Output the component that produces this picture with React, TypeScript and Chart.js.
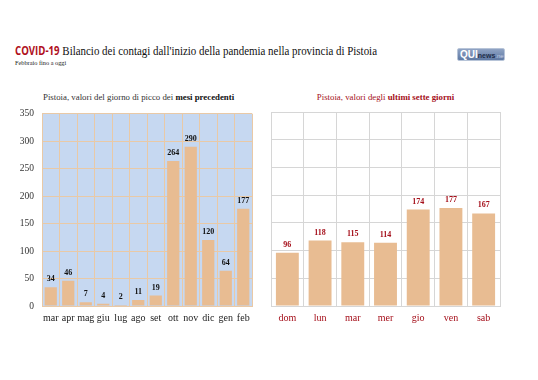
import React, { useEffect, useRef } from "react";
import { Chart, registerables } from "chart.js";

Chart.register(...registerables);

const monthLabels = ["mar", "apr", "mag", "giu", "lug", "ago", "set", "ott", "nov", "dic", "gen", "feb"];
const monthValues = [34, 46, 7, 4, 2, 11, 19, 264, 290, 120, 64, 177];
const dayLabels = ["dom", "lun", "mar", "mer", "gio", "ven", "sab"];
const dayValues = [96, 118, 115, 114, 174, 177, 167];
const yMax = 350;
const yStep = 50;

const SERIF = "'Liberation Serif', 'DejaVu Serif', serif";
const BAR = "#e8bc92";
const RED = "#a50f1a";

const valueLabels = (color: string) => ({
  id: "valueLabels",
  afterDatasetsDraw(chart: any) {
    const ctx = chart.ctx;
    const meta = chart.getDatasetMeta(0);
    const data = chart.data.datasets[0].data;
    ctx.save();
    ctx.font = `bold 8px ${SERIF}`;
    ctx.fillStyle = color;
    ctx.textAlign = "center";
    ctx.textBaseline = "bottom";
    meta.data.forEach((bar: any, i: number) => {
      ctx.fillText(String(data[i]), bar.x, bar.y - 4);
    });
    ctx.restore();
  },
});

const plotBg = (color: string) => ({
  id: "plotBg",
  beforeDraw(chart: any) {
    const { ctx, chartArea } = chart;
    ctx.save();
    ctx.fillStyle = color;
    ctx.fillRect(chartArea.left, chartArea.top, chartArea.right - chartArea.left, chartArea.bottom - chartArea.top);
    ctx.restore();
  },
});

function BarPanel(props: {
  labels: string[];
  values: number[];
  left: number;
  width: number;
  padLeft: number;
  padRight: number;
  yAxisWidth: number;
  showY: boolean;
  gridColor: string;
  bg: string | null;
  tickColor: string;
  labelColor: string;
}) {
  const ref = useRef<HTMLCanvasElement>(null);
  useEffect(() => {
    const plugins: any[] = [valueLabels(props.labelColor)];
    if (props.bg) plugins.push(plotBg(props.bg));
    const chart = new Chart(ref.current as HTMLCanvasElement, {
      type: "bar",
      data: {
        labels: props.labels,
        datasets: [
          {
            data: props.values,
            backgroundColor: BAR,
            borderWidth: 0,
            categoryPercentage: 1,
            barPercentage: 0.7,
          },
        ],
      },
      options: {
        animation: false,
        responsive: false,
        maintainAspectRatio: false,
        events: [],
        layout: { padding: { left: props.padLeft, right: props.padRight, top: 12, bottom: 0 } },
        plugins: { legend: { display: false }, tooltip: { enabled: false }, title: { display: false } },
        scales: {
          x: {
            offset: true,
            grid: { color: props.gridColor, lineWidth: 1, drawTicks: false, offset: true },
            border: { color: props.gridColor },
            ticks: { color: props.tickColor, font: { family: SERIF, size: 10 }, padding: 6, maxRotation: 0, autoSkip: false },
            afterFit(axis: any) {
              axis.height = 24;
            },
          },
          y: {
            min: 0,
            max: yMax,
            grid: { color: props.gridColor, lineWidth: 1, drawTicks: false },
            border: { color: props.gridColor },
            ticks: {
              display: props.showY,
              stepSize: yStep,
              color: "#333",
              font: { family: SERIF, size: 9.5 },
              padding: 8,
            },
            afterFit(axis: any) {
              axis.width = props.yAxisWidth;
            },
          },
        },
      },
      plugins,
    });
    return () => chart.destroy();
  }, []);
  return (
    <canvas
      ref={ref}
      width={props.width}
      height={230}
      style={{ position: "absolute", left: props.left, top: 100, width: props.width, height: 230 }}
    />
  );
}

export default function App() {
  useEffect(() => {
    document.body.style.margin = "0";
    document.body.style.background = "#fff";
  }, []);
  return (
    <div style={{ position: "fixed", left: 0, top: 0, width: 538, height: 380, background: "#fff", overflow: "hidden" }}>
      <div
        style={{
          position: "absolute",
          left: 15,
          top: 43,
          whiteSpace: "nowrap",
          fontFamily: SERIF,
          fontSize: 13,
          color: "#111",
          lineHeight: "16px",
          transform: "scaleX(0.84)",
          transformOrigin: "left top",
        }}
      >
        <span style={{ fontFamily: "'Open Sans', 'Liberation Sans', sans-serif", fontWeight: 700, color: "#b0101c", fontSize: 11.5 }}>
          COVID-19
        </span>{" "}
        Bilancio dei contagi dall'inizio della pandemia nella provincia di Pistoia
      </div>
      <div
        style={{
          position: "absolute",
          left: 15,
          top: 58,
          whiteSpace: "nowrap",
          fontFamily: SERIF,
          fontSize: 6.3,
          color: "#222",
          lineHeight: "9px",
        }}
      >
        Febbraio fino a oggi
      </div>
      <div
        style={{
          position: "absolute",
          left: 457,
          top: 48,
          width: 48,
          height: 13,
          borderRadius: 2,
          background: "linear-gradient(#8fa3c4, #5f79a3)",
          border: "1px solid #b7c4d8",
          boxSizing: "border-box",
          fontFamily: "'Liberation Sans', sans-serif",
          fontSize: 9,
          lineHeight: "11px",
          whiteSpace: "nowrap",
          paddingLeft: 2,
          overflow: "hidden",
        }}
      >
        <span style={{ color: "#fff", fontWeight: 700, fontSize: 10 }}>QUI</span>
        <span style={{ color: "#1e2d4a", fontWeight: 700, fontSize: 7 }}>news</span>
        <span style={{ color: "#c6d2e6", fontSize: 6 }}>.net</span>
      </div>

      <div
        style={{
          position: "absolute",
          left: 43,
          width: 190,
          top: 92,
          textAlign: "center",
          whiteSpace: "nowrap",
          fontFamily: SERIF,
          fontSize: 8.8,
          color: "#333",
        }}
      >
        Pistoia, valori del giorno di picco dei <b style={{ color: "#111" }}>mesi precedenti</b>
      </div>
      <div
        style={{
          position: "absolute",
          left: 271,
          width: 229,
          top: 92,
          textAlign: "center",
          whiteSpace: "nowrap",
          fontFamily: SERIF,
          fontSize: 8.8,
          color: RED,
        }}
      >
        Pistoia, valori degli <b>ultimi sette giorni</b>
      </div>

      <BarPanel
        labels={monthLabels}
        values={monthValues}
        left={0}
        width={265}
        padLeft={0}
        padRight={13}
        yAxisWidth={42}
        showY={true}
        gridColor="#e9c9a6"
        bg="#c6d8f1"
        tickColor="#222"
        labelColor="#111"
      />
      <BarPanel
        labels={dayLabels}
        values={dayValues}
        left={265}
        width={245}
        padLeft={6}
        padRight={10}
        yAxisWidth={0}
        showY={false}
        gridColor="#d6d6d6"
        bg={null}
        tickColor={RED}
        labelColor={RED}
      />
    </div>
  );
}
